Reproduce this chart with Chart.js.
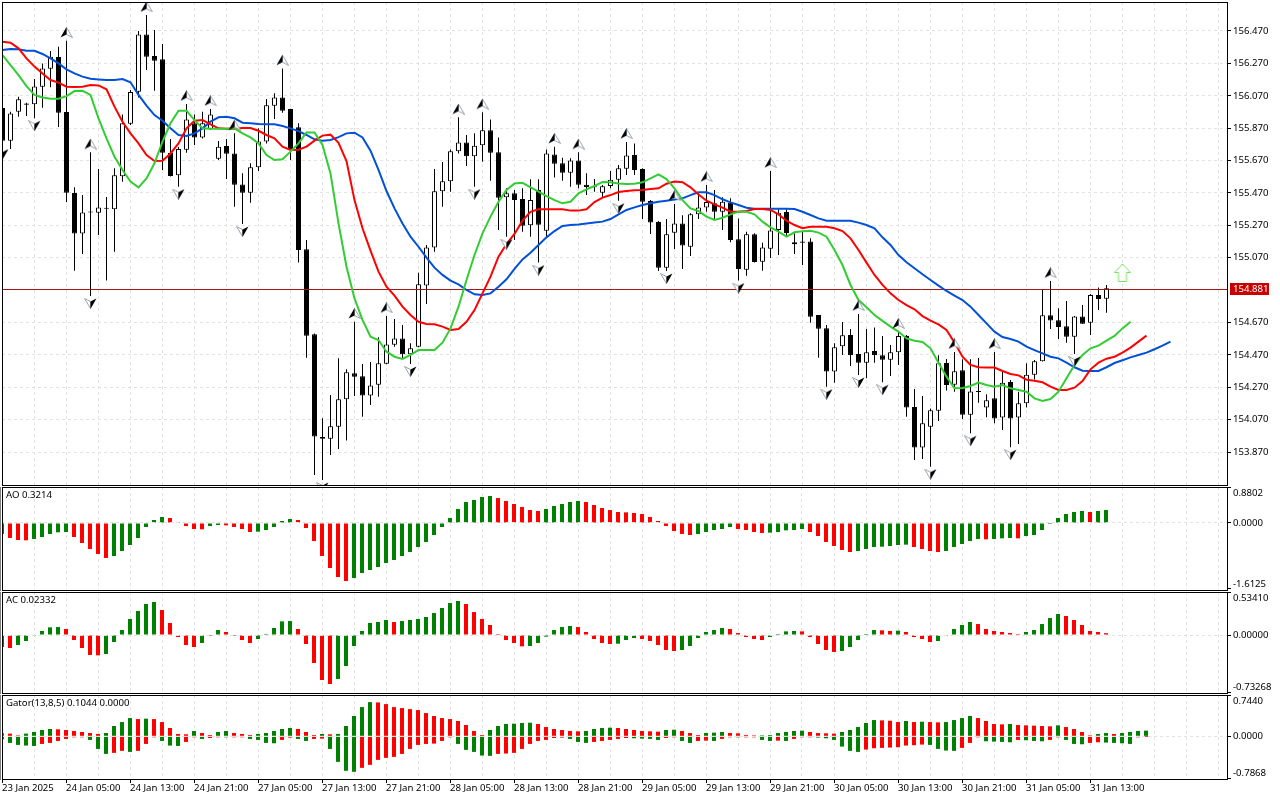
<!DOCTYPE html>
<html>
<head>
<meta charset="utf-8">
<title>USDJPY H1</title>
<script src="https://cdn.jsdelivr.net/npm/chart.js@4"></script>
<style>
  html, body { margin: 0; background: #fff; }
  canvas { position: absolute; left: 0; }
</style>
</head>
<body>
<canvas id="price-chart" width="1280" height="487" style="top:0"></canvas>
<canvas id="ao-chart" width="1280" height="105" style="top:486px"></canvas>
<canvas id="ac-chart" width="1280" height="103" style="top:591px"></canvas>
<canvas id="gator-chart" width="1280" height="106" style="top:694px"></canvas>
<script>
const dateLabels = ['23 Jan 2025', '24 Jan 05:00', '24 Jan 13:00', '24 Jan 21:00', '27 Jan 05:00', '27 Jan 13:00',
  '27 Jan 21:00', '28 Jan 05:00', '28 Jan 13:00', '28 Jan 21:00', '29 Jan 05:00', '29 Jan 13:00',
  '29 Jan 21:00', '30 Jan 05:00', '30 Jan 13:00', '30 Jan 21:00', '31 Jan 05:00', '31 Jan 13:00'];
const priceTicks = [156.47, 156.27, 156.07, 155.87, 155.67, 155.47, 155.27, 155.07, 154.67, 154.47, 154.27, 154.07, 153.87];
const aoTicks = [0.8802, 0, -1.6125];
const acTicks = [0.5341, 0, -0.73268];
const gatorTicks = [0.744, 0, -0.7868];
const lastPrice = 154.881;
const lastPriceLevel = 154.874; // where the line sits on the scale

const open = [
  155.994,155.793,155.972,156.023,156.017,156.126,156.237,156.309,155.970,155.470,
  155.219,155.350,155.348,155.377,155.369,155.573,155.898,156.095,156.449,156.315,
  156.295,155.719,155.579,155.737,155.900,155.813,155.863,155.682,155.760,155.714,
  155.523,155.472,155.628,155.787,156.009,156.060,155.988,155.875,155.122,154.597,
  153.964,153.953,154.027,154.196,154.357,154.338,154.219,154.286,154.416,154.533,
  154.572,154.474,154.521,154.898,155.134,155.480,155.542,155.727,155.782,155.696,
  155.764,155.857,155.721,155.443,155.468,155.433,155.270,155.488,155.237,155.708,
  155.653,155.595,155.671,155.521,155.511,155.472,155.513,155.552,155.620,155.704,
  155.618,155.420,155.291,155.009,155.225,155.282,155.138,155.338,155.381,155.406,
  155.354,155.410,155.184,154.996,155.215,155.046,155.126,155.241,155.352,155.153,
  155.171,155.171,154.717,154.634,154.367,154.523,154.593,154.476,154.422,154.494,
  154.468,154.441,154.486,154.587,154.149,153.898,154.027,154.126,154.420,154.286,
  154.375,154.101,154.245,154.145,154.202,154.083,154.303,154.083,154.171,154.348,
  154.431,154.715,154.684,154.647,154.583,154.708,154.669,154.840,154.817];
const close = [
  155.793,155.961,156.048,156.015,156.128,156.239,156.311,155.966,155.472,155.219,
  155.350,155.352,155.381,155.373,155.579,155.900,156.093,156.449,156.311,156.287,
  155.719,155.575,155.741,155.924,155.813,155.900,155.955,155.756,155.712,155.521,
  155.472,155.628,155.787,156.011,156.060,155.978,155.735,155.118,154.589,153.966,
  153.953,154.029,154.196,154.363,154.336,154.219,154.282,154.418,154.535,154.572,
  154.474,154.511,154.906,155.134,155.480,155.542,155.727,155.782,155.696,155.762,
  155.857,155.719,155.441,155.468,155.426,155.268,155.426,155.274,155.714,155.651,
  155.595,155.671,155.521,155.507,155.505,155.511,155.552,155.622,155.702,155.612,
  155.416,155.287,155.009,155.215,155.282,155.145,155.338,155.381,155.414,155.354,
  155.416,155.180,155.001,155.215,155.044,155.134,155.239,155.348,155.223,155.165,
  155.163,154.706,154.632,154.367,154.517,154.591,154.470,154.422,154.486,154.470,
  154.441,154.486,154.587,154.145,153.898,154.048,154.128,154.418,154.284,154.369,
  154.101,154.245,154.241,154.190,154.077,154.299,154.077,154.171,154.348,154.431,
  154.715,154.682,154.643,154.583,154.708,154.663,154.840,154.815,154.881];
const high = [
  156.023,155.972,156.064,156.027,156.173,156.270,156.346,156.373,156.410,155.505,
  155.457,155.721,155.618,155.445,155.622,155.955,156.105,156.470,156.568,156.476,
  156.389,155.803,155.754,156.019,155.955,155.972,155.988,155.791,155.803,155.838,
  155.591,155.653,155.869,156.050,156.085,156.239,155.990,155.900,155.180,154.603,
  154.079,154.223,154.449,154.381,154.675,154.414,154.426,154.579,154.710,154.692,
  154.655,154.542,154.978,155.149,155.618,155.661,155.739,155.937,155.828,155.838,
  155.968,155.924,155.813,155.499,155.488,155.499,155.554,155.554,155.739,155.756,
  155.688,155.684,155.721,155.591,155.556,155.519,155.606,155.642,155.785,155.776,
  155.622,155.426,155.297,155.309,155.402,155.332,155.344,155.468,155.519,155.488,
  155.443,155.437,155.313,155.231,155.221,155.163,155.606,155.375,155.369,155.221,
  155.231,155.190,154.717,154.655,154.542,154.673,154.630,154.723,154.630,154.640,
  154.587,154.531,154.614,154.593,154.260,154.217,154.140,154.468,154.445,154.488,
  154.443,154.443,154.451,154.227,154.488,154.367,154.315,154.243,154.418,154.439,
  154.875,154.926,154.758,154.803,154.710,154.778,154.846,154.887,154.902];
const low = [
  155.756,155.741,155.941,155.945,155.931,155.996,156.122,155.877,155.414,154.990,
  155.093,154.834,155.210,154.929,155.107,155.540,155.889,156.060,156.229,156.101,
  155.612,155.571,155.509,155.719,155.766,155.807,155.859,155.673,155.556,155.385,
  155.278,155.410,155.606,155.776,155.926,155.966,155.673,155.040,154.453,153.729,
  153.698,153.852,153.889,153.941,154.217,154.089,154.161,154.212,154.412,154.521,
  154.449,154.414,154.517,154.785,155.107,155.385,155.478,155.714,155.636,155.509,
  155.663,155.546,155.241,155.200,155.180,155.231,155.200,155.040,155.200,155.566,
  155.546,155.509,155.499,155.457,155.478,155.443,155.499,155.422,155.581,155.581,
  155.309,155.217,154.988,154.988,155.124,155.001,155.081,155.309,155.354,155.303,
  155.241,155.165,154.929,154.959,155.040,154.990,155.068,155.087,155.200,155.093,
  155.025,154.669,154.453,154.274,154.299,154.470,154.402,154.346,154.326,154.422,
  154.301,154.340,154.408,154.089,153.822,153.828,153.780,154.062,154.250,154.243,
  154.075,153.986,154.175,154.085,154.048,154.007,153.900,153.920,154.145,154.319,
  154.429,154.630,154.568,154.546,154.476,154.661,154.593,154.747,154.731];

// Alligator, these run past the last candle because of the shift
const lips = [
  156.321,156.260,156.198,156.130,156.075,156.060,156.052,156.052,156.068,156.099,
  156.101,156.075,155.931,155.807,155.694,155.612,155.540,155.505,155.560,155.653,
  155.787,155.900,155.978,155.978,155.920,155.869,155.867,155.867,155.867,155.869,
  155.838,155.813,155.776,155.704,155.673,155.678,155.725,155.776,155.844,155.844,
  155.766,155.591,155.282,155.015,154.819,154.686,154.583,154.562,154.490,154.459,
  154.445,154.470,154.500,154.500,154.500,154.546,154.634,154.768,154.933,155.087,
  155.221,155.324,155.416,155.488,155.529,155.533,155.505,155.478,155.451,155.426,
  155.406,155.416,155.468,155.492,155.513,155.538,155.536,155.529,155.525,155.527,
  155.536,155.560,155.585,155.556,155.499,155.426,155.375,155.359,155.324,155.303,
  155.317,155.338,155.354,155.354,155.338,155.293,155.258,155.231,155.200,155.227,
  155.233,155.237,155.225,155.200,155.118,155.025,154.902,154.809,154.764,154.717,
  154.680,154.645,154.614,154.572,154.558,154.550,154.511,154.422,154.336,154.264,
  154.266,154.278,154.299,154.284,154.274,154.284,154.264,154.254,154.243,154.202,
  154.186,154.198,154.243,154.326,154.408,154.470,154.511,154.527,154.558,154.587,
  154.634,154.675];
const teeth = [
  156.404,156.398,156.363,156.301,156.250,156.208,156.167,156.151,156.126,156.124,
  156.126,156.136,156.134,156.110,156.003,155.910,155.838,155.776,155.704,155.667,
  155.669,155.714,155.776,155.869,155.916,155.920,155.894,155.869,155.867,155.867,
  155.871,155.871,155.854,155.828,155.807,155.756,155.735,155.737,155.756,155.793,
  155.824,155.830,155.780,155.667,155.426,155.252,155.114,154.984,154.891,154.836,
  154.768,154.717,154.675,154.661,154.659,154.645,154.624,154.630,154.675,154.747,
  154.850,154.953,155.077,155.155,155.217,155.299,155.354,155.369,155.369,155.369,
  155.369,155.361,155.361,155.369,155.414,155.441,155.457,155.476,155.482,155.486,
  155.488,155.494,155.499,155.527,155.540,155.536,155.505,155.461,155.422,155.400,
  155.379,155.354,155.354,155.359,155.371,155.371,155.365,155.338,155.299,155.272,
  155.252,155.262,155.262,155.262,155.252,155.235,155.190,155.118,155.040,154.964,
  154.902,154.850,154.809,154.778,154.752,154.710,154.682,154.659,154.624,154.546,
  154.459,154.408,154.394,154.392,154.392,154.371,154.352,154.344,154.317,154.311,
  154.301,154.274,154.254,154.254,154.268,154.309,154.381,154.422,154.447,154.459,
  154.484,154.515,154.552,154.589];
const jaw = [
  156.352,156.359,156.357,156.348,156.348,156.328,156.301,156.270,156.233,156.208,
  156.188,156.175,156.171,156.167,156.167,156.173,156.153,156.075,156.009,155.951,
  155.916,155.869,155.828,155.822,155.838,155.869,155.910,155.937,155.941,155.931,
  155.904,155.900,155.896,155.894,155.894,155.883,155.869,155.852,155.828,155.801,
  155.793,155.797,155.815,155.838,155.842,155.813,155.731,155.612,155.482,155.375,
  155.282,155.200,155.138,155.071,155.009,154.964,154.929,154.906,154.871,154.844,
  154.840,154.850,154.891,154.937,155.001,155.060,155.101,155.149,155.196,155.235,
  155.266,155.272,155.276,155.282,155.287,155.293,155.309,155.338,155.365,155.381,
  155.396,155.406,155.416,155.422,155.429,155.437,155.457,155.474,155.474,155.457,
  155.431,155.412,155.396,155.379,155.373,155.373,155.373,155.373,155.373,155.371,
  155.354,155.334,155.313,155.299,155.299,155.299,155.299,155.287,155.272,155.252,
  155.196,155.149,155.087,155.042,155.005,154.968,154.933,154.898,154.865,154.836,
  154.809,154.768,154.717,154.665,154.614,154.581,154.568,154.552,154.521,154.500,
  154.480,154.459,154.449,154.422,154.394,154.373,154.371,154.371,154.394,154.420,
  154.437,154.455,154.470,154.484,154.505,154.527,154.552];

// Bar numbers that carry a fractal
const fractalsUp = [8, 11, 18, 23, 26, 29, 35, 44, 48, 57, 60, 69, 72, 78, 84, 88, 96, 107, 112, 119, 124, 131];
const fractalsDown = [0, 4, 11, 22, 30, 40, 51, 59, 63, 67, 77, 83, 92, 103, 107, 110, 116, 121, 126, 134];
const signalBar = 140;
const signalPrice = 154.976;

const ao = [
  -0.271,-0.370,-0.419,-0.428,-0.395,-0.345,-0.271,-0.230,-0.222,-0.345,
  -0.493,-0.641,-0.765,-0.863,-0.814,-0.691,-0.543,-0.370,-0.099,0.074,
  0.148,0.123,0.025,-0.074,-0.148,-0.156,-0.074,-0.049,-0.058,-0.099,
  -0.148,-0.222,-0.214,-0.173,-0.099,0.049,0.099,0.074,-0.123,-0.444,
  -0.814,-1.110,-1.332,-1.431,-1.357,-1.234,-1.160,-1.086,-0.987,-0.913,
  -0.814,-0.715,-0.592,-0.469,-0.296,-0.099,0.123,0.345,0.518,0.567,
  0.641,0.666,0.617,0.543,0.469,0.395,0.321,0.296,0.345,0.419,
  0.469,0.518,0.543,0.518,0.444,0.370,0.321,0.271,0.263,0.247,
  0.222,0.148,0.049,-0.074,-0.197,-0.271,-0.296,-0.271,-0.222,-0.173,
  -0.148,-0.099,-0.148,-0.173,-0.222,-0.247,-0.238,-0.222,-0.181,-0.173,
  -0.148,-0.222,-0.321,-0.469,-0.567,-0.666,-0.715,-0.691,-0.641,-0.592,
  -0.584,-0.567,-0.543,-0.534,-0.592,-0.641,-0.691,-0.715,-0.691,-0.592,
  -0.518,-0.444,-0.395,-0.403,-0.395,-0.378,-0.370,-0.378,-0.321,-0.296,
  -0.173,-0.025,0.123,0.222,0.271,0.296,0.271,0.296,0.3214];
const ac = [
  -0.152,-0.165,-0.127,-0.076,-0.004,0.051,0.097,0.101,0.076,-0.063,
  -0.165,-0.253,-0.258,-0.241,-0.089,0.063,0.203,0.304,0.393,0.418,
  0.317,0.152,-0.025,-0.127,-0.152,-0.101,-0.008,0.063,0.038,-0.008,
  -0.063,-0.101,-0.051,0.013,0.089,0.173,0.177,0.076,-0.114,-0.355,
  -0.570,-0.621,-0.557,-0.393,-0.139,0.051,0.152,0.165,0.190,0.165,
  0.177,0.190,0.203,0.228,0.279,0.342,0.405,0.431,0.393,0.291,
  0.203,0.127,0.013,-0.063,-0.101,-0.144,-0.139,-0.101,-0.021,0.063,
  0.101,0.114,0.101,0.038,-0.051,-0.101,-0.114,-0.110,-0.063,-0.038,
  -0.051,-0.076,-0.127,-0.190,-0.203,-0.190,-0.139,-0.038,0.038,0.063,
  0.089,0.076,0.025,-0.025,-0.051,-0.063,-0.025,0.013,0.046,0.051,
  0.046,-0.025,-0.114,-0.190,-0.215,-0.203,-0.152,-0.063,0.013,0.063,
  0.059,0.051,0.055,0.038,-0.025,-0.051,-0.089,-0.076,-0.004,0.076,
  0.127,0.165,0.139,0.076,0.051,0.038,0.025,0.013,0.038,0.063,
  0.139,0.215,0.266,0.241,0.190,0.127,0.051,0.038,0.02332];
const gatorUpper = [
  0.055,0.049,0.012,0.049,0.080,0.116,0.135,0.129,0.116,0.098,
  0.080,0.061,0.043,0.061,0.190,0.263,0.337,0.318,0.325,0.318,
  0.263,0.153,0.043,0.037,0.098,0.061,0.024,0.080,0.098,0.061,
  0.043,0.024,0.043,0.061,0.098,0.135,0.153,0.135,0.080,0.024,
  0.043,0.037,0.043,0.190,0.374,0.539,0.631,0.625,0.594,0.539,
  0.521,0.502,0.484,0.429,0.374,0.337,0.318,0.282,0.208,0.098,
  0.024,0.116,0.190,0.227,0.233,0.245,0.251,0.227,0.171,0.135,
  0.116,0.098,0.092,0.098,0.135,0.153,0.159,0.153,0.135,0.116,
  0.098,0.092,0.086,0.116,0.122,0.098,0.061,0.024,0.061,0.067,
  0.080,0.061,0.055,0.024,0.006,0.012,0.024,0.061,0.080,0.098,
  0.104,0.080,0.061,0.055,0.049,0.080,0.116,0.171,0.245,0.300,
  0.294,0.288,0.263,0.282,0.263,0.269,0.263,0.257,0.263,0.300,
  0.337,0.374,0.337,0.282,0.227,0.220,0.227,0.208,0.202,0.196,
  0.190,0.184,0.202,0.171,0.135,0.080,0.006,0.043,0.061,0.043,
  0.061,0.080,0.098,0.1044];
const gatorLower = [
  -0.055,-0.122,-0.159,-0.171,-0.178,-0.141,-0.122,-0.086,-0.049,-0.012,
  -0.006,-0.067,-0.233,-0.325,-0.306,-0.269,-0.288,-0.269,-0.141,-0.012,
  -0.086,-0.171,-0.178,-0.104,-0.012,-0.049,-0.031,-0.012,-0.018,-0.012,
  -0.006,-0.049,-0.067,-0.122,-0.129,-0.067,-0.024,-0.049,-0.086,-0.049,
  -0.043,-0.233,-0.472,-0.637,-0.655,-0.582,-0.527,-0.435,-0.398,-0.380,
  -0.325,-0.233,-0.159,-0.141,-0.135,-0.086,-0.012,-0.141,-0.251,-0.288,
  -0.355,-0.361,-0.325,-0.318,-0.306,-0.233,-0.141,-0.086,-0.067,-0.031,
  -0.024,-0.049,-0.104,-0.122,-0.104,-0.086,-0.067,-0.049,-0.031,-0.037,
  -0.043,-0.049,-0.067,-0.031,-0.012,-0.086,-0.122,-0.086,-0.080,-0.086,
  -0.049,-0.012,-0.018,-0.012,-0.006,-0.067,-0.086,-0.080,-0.086,-0.049,
  -0.012,-0.006,-0.024,-0.037,-0.067,-0.190,-0.269,-0.288,-0.245,-0.220,
  -0.214,-0.208,-0.202,-0.171,-0.165,-0.153,-0.159,-0.233,-0.263,-0.269,
  -0.214,-0.122,-0.018,-0.092,-0.098,-0.104,-0.110,-0.067,-0.073,-0.086,
  -0.092,-0.067,-0.018,-0.067,-0.141,-0.147,-0.122,-0.110,-0.116,-0.122,
  -0.129,-0.141,-0.006,0];

const FONT = { family: "'Noto Sans', sans-serif", size: 9.6 };
const GRID = '#e3e3e3';
const GREEN = '#008000';
const RED = '#ff0000';
const PLOT_WIDTH = 1225;

const points = (values) => values.map((v, i) => ({ x: i, y: v }));

// Arrowhead glyph used for the fractal marks
function fractalGlyph(up) {
  const c = document.createElement('canvas');
  c.width = 13; c.height = 11;
  const g = c.getContext('2d');
  if (!up) { g.translate(0, 11); g.scale(1, -1); g.translate(13, 0); g.scale(-1, 1); }
  g.fillStyle = '#fff';
  g.strokeStyle = '#9aa3ad';
  g.beginPath(); g.moveTo(6.5, 0.5); g.lineTo(12.5, 10.5); g.lineTo(6.5, 7.5); g.closePath();
  g.fill(); g.stroke();
  g.fillStyle = '#000';
  g.beginPath(); g.moveTo(6.5, 0); g.lineTo(0.5, 10.5); g.lineTo(6.5, 7.5); g.closePath();
  g.fill();
  return c;
}

function arrowGlyph() {
  const c = document.createElement('canvas');
  c.width = 18; c.height = 20;
  const g = c.getContext('2d');
  g.fillStyle = '#fff';
  g.strokeStyle = '#74e25c';
  g.lineWidth = 1;
  g.beginPath();
  g.moveTo(9, 1); g.lineTo(17, 9.5); g.lineTo(13, 9.5); g.lineTo(13, 18.5);
  g.lineTo(5, 18.5); g.lineTo(5, 9.5); g.lineTo(1, 9.5); g.closePath();
  g.fill(); g.stroke();
  return c;
}

// Frame, indicator caption, end labels that stay inside the panel
function panelPlugin(caption, endTicks, digits) {
  return {
    id: 'panel',
    afterDraw(chart) {
      const { ctx, chartArea: a, scales: { y } } = chart;
      ctx.save();
      ctx.strokeStyle = '#000';
      ctx.lineWidth = 1;
      ctx.strokeRect(2.5, a.top + 0.5, PLOT_WIDTH, a.bottom - a.top);
      ctx.font = `${FONT.size}px ${FONT.family}`;
      ctx.fillStyle = '#000';
      ctx.textBaseline = 'middle';
      if (caption) ctx.fillText(caption, 6, a.top + 8);
      if (endTicks) {
        endTicks.forEach(v => {
          const py = Math.min(Math.max(y.getPixelForValue(v), a.top + 6), a.bottom - 6);
          ctx.fillText(v.toFixed(digits), 1233, py);
        });
      }
      ctx.restore();
    },
  };
}

const lastPricePlugin = {
  id: 'lastPrice',
  afterDraw(chart) {
    const { ctx, scales: { y } } = chart;
    const py = Math.floor(y.getPixelForValue(lastPriceLevel));
    ctx.save();
    ctx.fillStyle = '#c80000';
    ctx.fillRect(1230, py - 6, 39, 12);
    ctx.fillStyle = '#fff';
    ctx.font = `${FONT.size}px ${FONT.family}`;
    ctx.textBaseline = 'middle';
    ctx.fillText(lastPrice.toFixed(3), 1233, py + 0.5);
    ctx.restore();
  },
};

function xAxis(xMin, withLabels) {
  return {
    type: 'linear',
    offset: false,
    min: xMin,
    max: xMin + PLOT_WIDTH / 8,
    border: { display: false, dash: [3, 3] },
    grid: {
      offset: false,
      color: ctx => (ctx.tick && ctx.tick.value === 0 ? 'transparent' : GRID),
      drawTicks: withLabels,
      tickLength: 4,
      tickColor: ctx => (ctx.tick && dateLabels[ctx.tick.value / 8] ? '#000' : 'transparent'),
      tickBorderDash: [],
    },
    ticks: {
      display: withLabels,
      autoSkip: false,
      maxRotation: 0,
      align: 'start',
      padding: 0,
      color: '#000',
      font: FONT,
      callback: v => dateLabels[v / 8] || '',
    },
    afterBuildTicks(scale) {
      const ticks = [];
      for (let v = 0; v <= 152; v += 4) ticks.push({ value: v });
      scale.ticks = ticks;
    },
    afterFit(scale) {
      if (withLabels) scale.height = 21;
      scale.paddingLeft = 0; scale.paddingRight = 0;
    },
  };
}

function yAxis(min, max, tickValues, overlayGrid) {
  return {
    position: 'right',
    min, max,
    border: { display: true, color: '#000', dash: [3, 3] },
    grid: {
      z: overlayGrid ? 1 : 0,
      color: ctx => (overlayGrid && ctx.tick && ctx.tick.value !== 0 ? 'transparent' : GRID),
      tickLength: 4,
      tickColor: '#000',
      tickBorderDash: [],
    },
    ticks: {
      display: !overlayGrid,
      autoSkip: false,
      padding: 2,
      color: '#000',
      font: FONT,
      callback: v => v.toFixed(3),
    },
    afterBuildTicks(scale) { scale.ticks = tickValues.map(v => ({ value: v })); },
    afterFit(scale) {
      scale.width = 53;
      scale.paddingTop = 0; scale.paddingBottom = 0;
    },
  };
}

function baseOptions(x, y, padding) {
  return {
    responsive: false,
    animation: false,
    devicePixelRatio: 1,
    layout: { autoPadding: false, padding },
    plugins: { legend: { display: false }, tooltip: { enabled: false } },
    scales: { x, y },
  };
}

function lineSet(values, color, order) {
  return { type: 'line', data: points(values), borderColor: color, borderWidth: 2, pointRadius: 0, tension: 0, order };
}

function markerSet(data, glyph) {
  return {
    type: 'line', data, showLine: false, pointStyle: glyph, pointRadius: 6, order: 0,
  };
}

const isBull = i => close[i] - open[i] > 0.006;

new Chart(document.getElementById('price-chart').getContext('2d'), {
  type: 'bar',
  data: {
    datasets: [
      markerSet(fractalsUp.map(i => ({ x: i, y: high[i] + 0.051 })), fractalGlyph(true)),
      markerSet(fractalsDown.map(i => ({ x: i, y: low[i] - 0.046 })), fractalGlyph(false)),
      markerSet([{ x: signalBar, y: signalPrice }], arrowGlyph()),
      lineSet(lips, '#32cd32', 1),
      lineSet(teeth, '#ff0000', 2),
      lineSet(jaw, '#0050d8', 3),
      {
        type: 'line',
        data: [{ x: -1, y: lastPriceLevel }, { x: 154, y: lastPriceLevel }],
        borderColor: '#a81414', borderWidth: 1, pointRadius: 0, order: 4,
      },
      {
        data: open.map((o, i) => ({ x: i, y: [o, close[i]] })),
        barThickness: 5,
        grouped: false,
        minBarLength: 1,
        inflateAmount: 0,
        borderSkipped: false,
        borderWidth: 1,
        borderColor: '#000',
        backgroundColor: ctx => (isBull(ctx.dataIndex) ? '#fff' : '#000'),
        order: 5,
      },
      {
        data: high.map((h, i) => ({ x: i, y: [low[i], h] })),
        barThickness: 1,
        grouped: false,
        inflateAmount: 0,
        backgroundColor: '#000',
        order: 6,
      },
    ],
  },
  options: baseOptions(xAxis(-0.0625, false), yAxis(153.667, 156.649, priceTicks, false),
    { left: 2, top: 2, bottom: 2 }),
  plugins: [panelPlugin(), lastPricePlugin],
});

// Rising bars are green, falling ones red
const rising = (values, i) => i > 0 && Math.abs(values[i]) > Math.abs(values[i - 1]);
const risingSigned = (values, i) => i > 0 && values[i] > values[i - 1];

function oscillatorSet(values, colorOf) {
  return {
    data: points(values),
    barThickness: 4,
    grouped: false,
    inflateAmount: 0,
    minBarLength: 1,
    backgroundColor: ctx => colorOf(ctx.dataIndex),
  };
}

new Chart(document.getElementById('ao-chart').getContext('2d'), {
  type: 'bar',
  data: { datasets: [oscillatorSet(ao, i => (risingSigned(ao, i) ? GREEN : RED))] },
  options: baseOptions(xAxis(0, false), yAxis(-1.653, 0.888, aoTicks, true), { left: 2, top: 1, bottom: 1 }),
  plugins: [panelPlugin('AO 0.3214', aoTicks, 4)],
});

new Chart(document.getElementById('ac-chart').getContext('2d'), {
  type: 'bar',
  data: { datasets: [oscillatorSet(ac, i => (risingSigned(ac, i) ? GREEN : RED))] },
  options: baseOptions(xAxis(0, false), yAxis(-0.7348, 0.5448, acTicks, true), { left: 2, top: 1, bottom: 1 }),
  plugins: [panelPlugin('AC 0.02332', acTicks, 5)],
});

new Chart(document.getElementById('gator-chart').getContext('2d'), {
  type: 'bar',
  data: {
    datasets: [
      oscillatorSet(gatorUpper, i => (i === 0 ? RED : rising(gatorUpper, i) ? GREEN : RED)),
      oscillatorSet(gatorLower, i => (i === 0 ? GREEN : rising(gatorLower, i) ? GREEN : RED)),
    ],
  },
  options: baseOptions(xAxis(0, true), yAxis(-0.788, 0.762, gatorTicks, true), { left: 2, top: 1 }),
  plugins: [panelPlugin('Gator(13,8,5) 0.1044 0.0000', gatorTicks, 4)],
});
</script>
</body>
</html>
